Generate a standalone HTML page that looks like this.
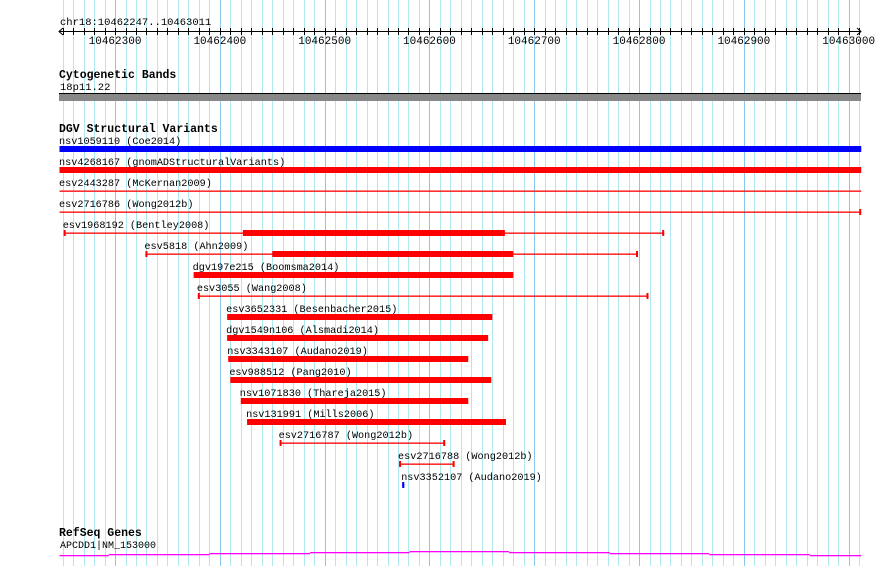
<!DOCTYPE html>
<html><head><meta charset="utf-8">
<style>
html,body{margin:0;padding:0;background:#fff;}
svg{display:block;}
text{font-family:"Liberation Mono","DejaVu Sans Mono",monospace;}
</style></head>
<body>
<svg id="chart" width="890" height="566" viewBox="0 0 890 566" xmlns="http://www.w3.org/2000/svg"></svg>
<script>
const regionStart = 10462247;
const regionEnd = 10463011;
const tickLabels = [10462300,10462400,10462500,10462600,10462700,10462800,10462900,10463000];
const variantNames = ["nsv1059110 (Coe2014)","nsv4268167 (gnomADStructuralVariants)","esv2443287 (McKernan2009)","esv2716786 (Wong2012b)","esv1968192 (Bentley2008)","esv5818 (Ahn2009)","dgv197e215 (Boomsma2014)","esv3055 (Wang2008)","esv3652331 (Besenbacher2015)","dgv1549n106 (Alsmadi2014)","nsv3343107 (Audano2019)","esv988512 (Pang2010)","nsv1071830 (Thareja2015)","nsv131991 (Mills2006)","esv2716787 (Wong2012b)","esv2716788 (Wong2012b)","nsv3352107 (Audano2019)"];
const variantStarts = [10462247,10462247,10462247,10462247,10462251,10462329,10462375,10462379,10462407,10462407,10462408,10462410,10462420,10462426,10462457,10462571,10462574];
const variantEnds = [10463012,10463012,10463012,10463012,10462824,10462799,10462680,10462809,10462660,10462656,10462637,10462659,10462637,10462673,10462615,10462624,10462576];
const thickStarts = [10462247,10462247,null,null,10462422,10462450,10462375,null,10462407,10462407,10462408,10462410,10462420,10462426,null,null,10462574];
const thickEnds = [10463012,10463012,null,null,10462672,10462680,10462680,null,10462660,10462656,10462637,10462659,10462637,10462673,null,null,10462576];
const variantColors = ["#0000ff","#ff0000","#ff0000","#ff0000","#ff0000","#ff0000","#ff0000","#ff0000","#ff0000","#ff0000","#ff0000","#ff0000","#ff0000","#ff0000","#ff0000","#ff0000","#0000ff"];
const endCaps = [false,false,false,"right",true,true,false,true,false,false,false,false,false,false,true,true,false];
const geneStepStarts = [10462247,10462294,10462390,10462486,10462581,10462676,10462772,10462867,10462963];
const geneStepLevels = [0,1,2,3,4,3,2,1,0];

const svg = document.getElementById('chart');
const NS = 'http://www.w3.org/2000/svg';
const X0 = 59.5, PX = 1.048;
function x(pos){ return X0 + (pos - regionStart) * PX; }
function mk(tag, attrs, parent){
  const e = document.createElementNS(NS, tag);
  for (const k in attrs) e.setAttribute(k, attrs[k]);
  (parent || svg).appendChild(e);
  return e;
}
const grid = mk('g', {});


for (let p = Math.ceil(regionStart/10)*10; p <= regionEnd; p += 10) {
  const gx = Math.round(x(p)) + 0.5;
  mk('line', {x1:gx, x2:gx, y1:0, y2:566, stroke: p % 100 === 0 ? '#8cc6ea' : '#b0e8f0', 'stroke-width':1}, grid);
}
const ruler = mk('g', {});


const title = mk('text', {x:60, y:25, 'font-size':10.5}, ruler);
title.textContent = 'chr18:' + regionStart + '..' + regionEnd;


mk('line', {x1:59, x2:861, y1:31.5, y2:31.5, stroke:'#000'}, ruler);
mk('path', {d:'M63,28 L59,31.5 L63,35 M857,28 L861,31.5 L857,35', stroke:'#000', fill:'none'}, ruler);
for (let p = Math.ceil(regionStart/10)*10; p <= regionEnd; p += 10) {
  const tx = Math.round(x(p)) + 0.5;
  mk('line', {x1:tx, x2:tx, y1:28, y2:35, stroke:'#000'}, ruler);
}
tickLabels.forEach(t => {
  const tl = mk('text', {x:x(t), y:44, 'font-size':11, 'text-anchor':'middle'}, ruler);
  tl.textContent = t;
  
  
});
const cyt = mk('g', {});


const ch = mk('text', {x:59, y:78, 'font-size':11.5, 'font-weight':'bold'}, cyt);
ch.textContent = 'Cytogenetic Bands';
const cl = mk('text', {x:60, y:90, 'font-size':10.5}, cyt);
cl.textContent = '18p11.22';
mk('rect', {x:59, y:93, width:802, height:8, fill:'#888'}, cyt);
mk('rect', {x:59, y:93, width:802, height:1, fill:'#000'}, cyt);
const dgv = mk('g', {});


const dh = mk('text', {x:59, y:132, 'font-size':11.5, 'font-weight':'bold'}, dgv);
dh.textContent = 'DGV Structural Variants';
variantNames.forEach((name, i) => {
  const y = 149 + i * 21;
  const c = variantColors[i];
  const g = mk('g', {}, dgv);
  
  
  const x1 = x(variantStarts[i]), x2 = x(variantEnds[i]);
  const lab = mk('text', {x: Math.max(59, x1 - 1), y: y - 5, 'font-size':10.2}, g);
  lab.textContent = name;
  mk('rect', {x:x1, y:y-0.5, width:x2-x1, height:1.3, fill:c}, g);
  if (thickStarts[i] !== null) {
    const t1 = x(thickStarts[i]), t2 = x(thickEnds[i]);
    mk('rect', {x:t1, y:y-3, width:Math.max(2, t2-t1), height:6, fill:c}, g);
  }
  if (endCaps[i] === true) {
    mk('rect', {x:x1, y:y-3, width:2, height:6, fill:c}, g);
    mk('rect', {x:x2-2, y:y-3, width:2, height:6, fill:c}, g);
  } else if (endCaps[i] === 'right') {
    mk('rect', {x:x2-2, y:y-3, width:2, height:6, fill:c}, g);
  }
});
const rs = mk('g', {});


const rh = mk('text', {x:59, y:536, 'font-size':11.5, 'font-weight':'bold'}, rs);
rh.textContent = 'RefSeq Genes';
const rl = mk('text', {x:60, y:548, 'font-size':10}, rs);
rl.textContent = 'APCDD1|NM_153000';
const gene = mk('g', {}, rs);


geneStepStarts.forEach((s, i) => {
  const e = i + 1 < geneStepStarts.length ? geneStepStarts[i+1] : regionEnd + 1;
  mk('rect', {x:x(s), y:555 - geneStepLevels[i], width:x(e)-x(s), height:1.3, fill:'#ff00ff'}, gene);
});
</script>
</body></html>
